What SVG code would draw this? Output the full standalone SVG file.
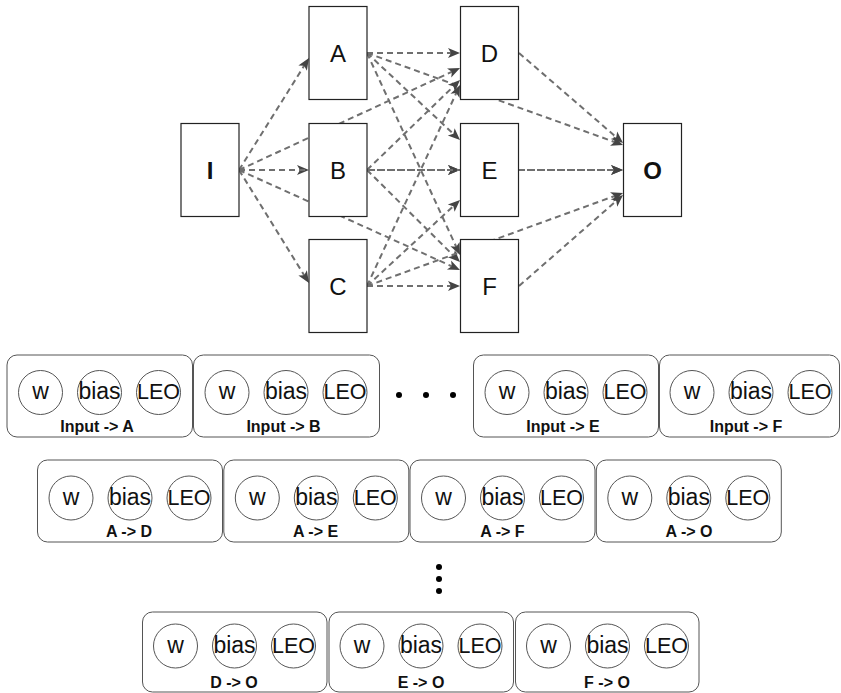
<svg xmlns="http://www.w3.org/2000/svg" width="841" height="693" viewBox="0 0 841 693">
<style>
.node{fill:#fff;stroke:#222;stroke-width:1.2}
.nt{font-family:"Liberation Sans",Arial,sans-serif;font-size:24px;fill:#111;text-anchor:middle}
.b{font-weight:bold}
.edge{fill:none;stroke:#6f6f6f;stroke-width:2;stroke-dasharray:6 4;marker-end:url(#arr)}
.panel{fill:#fff;stroke:#555;stroke-width:1}
.c{fill:#fff;stroke:#555;stroke-width:1}
.ct{font-family:"Liberation Sans",Arial,sans-serif;font-size:23px;fill:#111;text-anchor:middle}
.ctl{font-size:21.5px}
.pl{font-family:"Liberation Sans",Arial,sans-serif;font-size:16px;font-weight:bold;fill:#111;text-anchor:middle}
.dot{fill:#000}
</style>
<defs>
<marker id="arr" markerUnits="userSpaceOnUse" markerWidth="12" markerHeight="10" refX="6" refY="5" orient="auto" overflow="visible">
<path d="M0,0 L12,5 L0,10 L3,5 Z" fill="#444"/>
</marker>
<g id="cell">
<circle class="c" cx="-59" cy="0" r="22"/>
<circle class="c" cx="0" cy="0" r="22"/>
<circle class="c" cx="59" cy="0" r="22"/>
<text class="ct" x="-59" y="6.5">w</text>
<text class="ct" x="0" y="6.5">bias</text>
<text class="ct ctl" x="59" y="6.5">LEO</text>
</g>
</defs>
<g id="connectors">
<line class="edge" x1="239" y1="170" x2="305.8" y2="63.1"/>
<line class="edge" x1="239" y1="170" x2="303" y2="170"/>
<line class="edge" x1="239" y1="170" x2="305.8" y2="277.9"/>
<line class="edge" x1="239" y1="170" x2="454.6" y2="70.5"/>
<line class="edge" x1="239" y1="170" x2="454" y2="170"/>
<line class="edge" x1="239" y1="170" x2="454.5" y2="267.5"/>
<line class="edge" x1="367" y1="53" x2="454" y2="53"/>
<line class="edge" x1="367" y1="53" x2="455.6" y2="135.9"/>
<line class="edge" x1="367" y1="53" x2="457.5" y2="249.6"/>
<line class="edge" x1="367" y1="53" x2="617.4" y2="143"/>
<line class="edge" x1="367" y1="170" x2="455.7" y2="84.2"/>
<line class="edge" x1="367" y1="170" x2="454" y2="170"/>
<line class="edge" x1="367" y1="170" x2="455.7" y2="257.8"/>
<line class="edge" x1="367" y1="170" x2="617" y2="170"/>
<line class="edge" x1="367" y1="286" x2="457.5" y2="90.4"/>
<line class="edge" x1="367" y1="286" x2="455.6" y2="204.1"/>
<line class="edge" x1="367" y1="286" x2="454" y2="286"/>
<line class="edge" x1="367" y1="286" x2="617.4" y2="195"/>
<line class="edge" x1="519" y1="53" x2="618.5" y2="139.1"/>
<line class="edge" x1="519" y1="170" x2="617" y2="170"/>
<line class="edge" x1="519" y1="286" x2="618.5" y2="199"/>
</g>
<g id="node-I"><rect class="node" x="181" y="123.5" width="58" height="93"/><text class="nt b" x="210" y="179">I</text></g>
<g id="node-A"><rect class="node" x="309" y="6.5" width="58" height="93"/><text class="nt" x="338" y="62">A</text></g>
<g id="node-B"><rect class="node" x="309" y="123.5" width="58" height="93"/><text class="nt" x="338" y="179">B</text></g>
<g id="node-C"><rect class="node" x="309" y="239.5" width="58" height="93"/><text class="nt" x="338" y="295">C</text></g>
<g id="node-D"><rect class="node" x="460.5" y="6.5" width="58" height="93"/><text class="nt" x="489.5" y="62">D</text></g>
<g id="node-E"><rect class="node" x="460.5" y="123.5" width="58" height="93"/><text class="nt" x="489.5" y="179">E</text></g>
<g id="node-F"><rect class="node" x="460.5" y="239.5" width="58" height="93"/><text class="nt" x="489.5" y="295">F</text></g>
<g id="node-O"><rect class="node" x="623.5" y="123.5" width="58" height="93"/><text class="nt b" x="652.5" y="179">O</text></g>

<g id="p-input-a"><rect class="panel" x="7" y="355" width="185.5" height="82" rx="10"/><use href="#cell" x="99.5" y="392.5"/><text class="pl" x="97" y="432">Input -&gt; A</text></g>
<g id="p-input-b"><rect class="panel" x="193.5" y="355" width="186" height="82" rx="10"/><use href="#cell" x="286" y="392.5"/><text class="pl" x="283.5" y="432">Input -&gt; B</text></g>
<g id="dots-h"><circle class="dot" cx="399" cy="395" r="3"/><circle class="dot" cx="426" cy="395" r="3"/><circle class="dot" cx="453" cy="395" r="3"/></g>
<g id="p-input-e"><rect class="panel" x="473.5" y="355" width="185" height="82" rx="10"/><use href="#cell" x="566" y="392.5"/><text class="pl" x="563" y="432">Input -&gt; E</text></g>
<g id="p-input-f"><rect class="panel" x="659.5" y="355" width="180" height="82" rx="10"/><use href="#cell" x="751" y="392.5"/><text class="pl" x="746" y="432">Input -&gt; F</text></g>

<g id="p-a-d"><rect class="panel" x="37.5" y="460" width="185" height="82" rx="10"/><use href="#cell" x="130" y="498"/><text class="pl" x="129" y="537">A -&gt; D</text></g>
<g id="p-a-e"><rect class="panel" x="223.8" y="460" width="185" height="82" rx="10"/><use href="#cell" x="316.3" y="498"/><text class="pl" x="315.5" y="537">A -&gt; E</text></g>
<g id="p-a-f"><rect class="panel" x="410" y="460" width="185" height="82" rx="10"/><use href="#cell" x="502.5" y="498"/><text class="pl" x="502.5" y="537">A -&gt; F</text></g>
<g id="p-a-o"><rect class="panel" x="596.3" y="460" width="185" height="82" rx="10"/><use href="#cell" x="688.8" y="498"/><text class="pl" x="689" y="537">A -&gt; O</text></g>

<g id="dots-v"><circle class="dot" cx="439" cy="567" r="3"/><circle class="dot" cx="439" cy="579" r="3"/><circle class="dot" cx="439" cy="591" r="3"/></g>

<g id="p-d-o"><rect class="panel" x="142.5" y="612" width="184.5" height="80" rx="10"/><use href="#cell" x="234.5" y="646"/><text class="pl" x="234" y="688">D -&gt; O</text></g>
<g id="p-e-o"><rect class="panel" x="329" y="612" width="184.5" height="80" rx="10"/><use href="#cell" x="421" y="646"/><text class="pl" x="421" y="688">E -&gt; O</text></g>
<g id="p-f-o"><rect class="panel" x="515.5" y="612" width="183.5" height="80" rx="10"/><use href="#cell" x="607.5" y="646"/><text class="pl" x="607" y="688">F -&gt; O</text></g>
</svg>
